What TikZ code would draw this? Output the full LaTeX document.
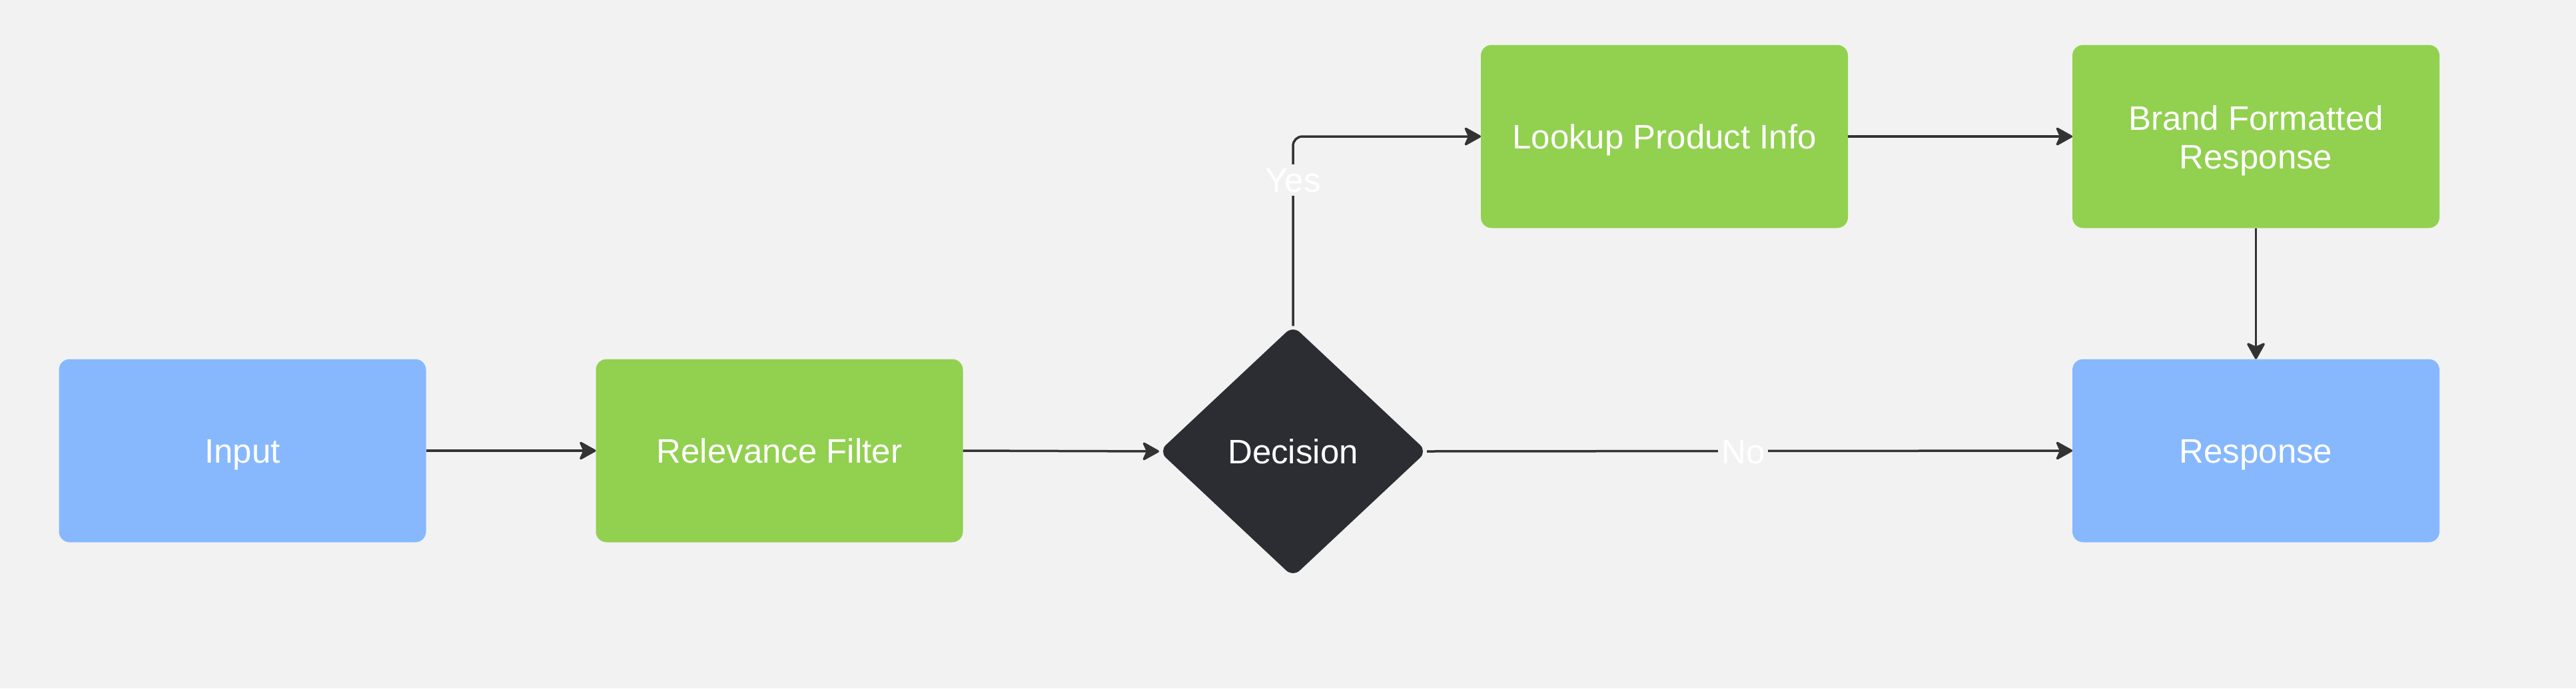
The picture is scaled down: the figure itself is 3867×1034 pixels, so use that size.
\documentclass[tikz,border=0pt]{standalone}
\usepackage{fontspec}
\setmainfont{Liberation Sans}
\usetikzlibrary{shapes.geometric,arrows.meta}
\definecolor{bg}{HTML}{F2F2F2}
\definecolor{bluebox}{HTML}{87B8FE}
\definecolor{greenbox}{HTML}{92D050}
\definecolor{darkdia}{HTML}{2C2D33}
\definecolor{linec}{HTML}{333333}
\begin{document}
\begin{tikzpicture}[x=1pt,y=-1pt,
  basebox/.style={rectangle, rounded corners=16pt, minimum width=551pt, minimum height=275pt,
    inner sep=0pt, outer sep=0pt, text=white, align=center,
    font=\fontsize{51}{58}\selectfont},
  box/.style={basebox, text height=37pt, text depth=0pt},
  bluestep/.style={box, fill=bluebox},
  greenstep/.style={box, fill=greenbox},
  greentwo/.style={basebox, fill=greenbox},
  decisionbox/.style={diamond, fill=darkdia, rounded corners=14pt, minimum width=402pt,
    minimum height=377pt, inner sep=0pt, outer sep=0pt, text=white,
    text height=37pt, text depth=0pt,
    font=\fontsize{51}{58}\selectfont},
  conn/.style={draw=linec, line width=3.5pt,
    -{Stealth[length=28pt,width=31pt,inset=7pt,round]}},
  lbl/.style={fill=bg, text=white, inner sep=5pt, text height=37pt, text depth=0pt,
    font=\fontsize{51}{58}\selectfont}
]
\fill[bg] (0,0) rectangle (3867,1034);
\useasboundingbox (0,0) rectangle (3867,1034);

\node[bluestep]  (input) at (364,677) {Input};
\node[greenstep] (filter) at (1170,677) {Relevance Filter};
\node[decisionbox] (dec) at (1941,678) {Decision};
\node[greenstep] (lookup) at (2498.5,205) {Lookup Product Info};
\node[greentwo] (brand) at (3386.5,205) {\vphantom{Bp}};
\node[text=white, align=center, inner sep=0pt, font=\fontsize{51}{58}\selectfont]
  (brandtext) at (3386.5,211) {Brand Formatted\\Response};
\node[bluestep]  (resp) at (3386.5,677) {Response};

\draw[conn] (input.east) -- (filter.west);
\draw[conn] (filter.east) -- (dec.west);
\draw[conn, rounded corners=14pt] (dec.north) |- (lookup.west)
  node[lbl, pos=0.385] {Yes};
\draw[conn] (dec.east) -- (resp.west) node[lbl, pos=0.49] {No};
\draw[conn] (lookup.east) -- (brand.west);
\draw[conn] (brand.south) -- (resp.north);
\end{tikzpicture}
\end{document}
